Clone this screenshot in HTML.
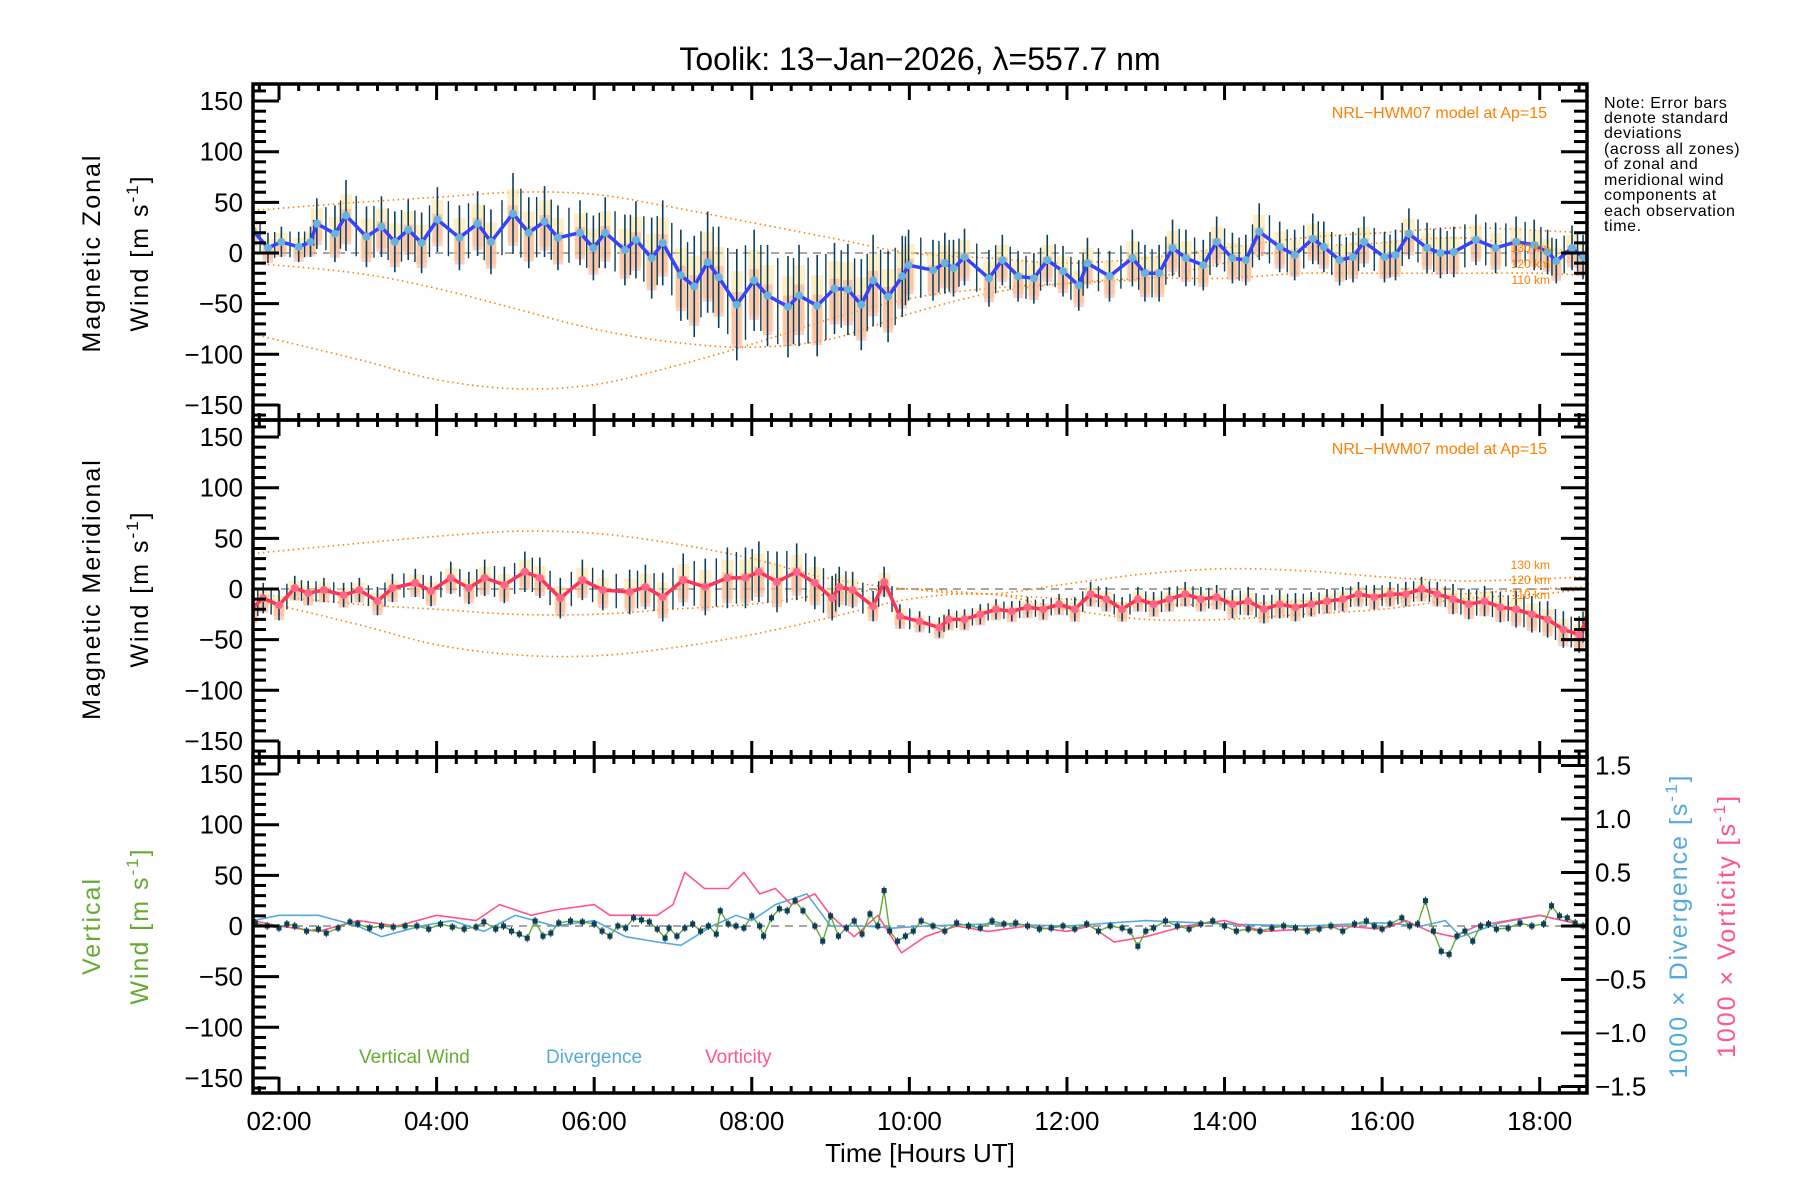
<!DOCTYPE html>
<html><head><meta charset="utf-8"><title>Toolik winds</title>
<style>
html,body{margin:0;padding:0;background:#fff;}
svg{display:block;font-family:"Liberation Sans",sans-serif;}
</style></head>
<body>
<svg id="chart" width="1800" height="1200" viewBox="0 0 1800 1200" xmlns="http://www.w3.org/2000/svg">
<rect width="1800" height="1200" fill="#fff"/>
<text x="920" y="70" text-anchor="middle" font-size="32">Toolik: 13−Jan−2026, λ=557.7 nm</text>
<g id="layer"></g>
<text x="1547" y="118" text-anchor="end" font-size="16" fill="#ff7f00">NRL−HWM07 model at Ap=15</text>
<text x="1547" y="454" text-anchor="end" font-size="16" fill="#ff7f00">NRL−HWM07 model at Ap=15</text>
<g font-size="12" fill="#ff7f00" text-anchor="end">
<text x="1550" y="252">130 km</text>
<text x="1550" y="268">120 km</text>
<text x="1550" y="284">110 km</text>
<text x="1550" y="569">130 km</text>
<text x="1550" y="584">120 km</text>
<text x="1550" y="599">110 km</text>
</g>
<g font-size="16" letter-spacing="0.6">
<text x="1604" y="108">Note: Error bars</text>
<text x="1604" y="123">denote standard</text>
<text x="1604" y="138">deviations</text>
<text x="1604" y="154">(across all zones)</text>
<text x="1604" y="169">of zonal and</text>
<text x="1604" y="185">meridional wind</text>
<text x="1604" y="200">components at</text>
<text x="1604" y="216">each observation</text>
<text x="1604" y="231">time.</text>
</g>
<g font-size="25" letter-spacing="2">
<text transform="translate(100,253) rotate(-90)" text-anchor="middle">Magnetic Zonal</text>
<text transform="translate(148,253) rotate(-90)" text-anchor="middle">Wind [m s<tspan dy="-10" font-size="17">-1</tspan><tspan dy="10">]</tspan></text>
<text transform="translate(100,589) rotate(-90)" text-anchor="middle">Magnetic Meridional</text>
<text transform="translate(148,589) rotate(-90)" text-anchor="middle">Wind [m s<tspan dy="-10" font-size="17">-1</tspan><tspan dy="10">]</tspan></text>
<text transform="translate(100,926) rotate(-90)" text-anchor="middle" fill="#66aa33">Vertical</text>
<text transform="translate(148,926) rotate(-90)" text-anchor="middle" fill="#66aa33">Wind [m s<tspan dy="-10" font-size="17">-1</tspan><tspan dy="10">]</tspan></text>
<text transform="translate(1687,926) rotate(-90)" text-anchor="middle" fill="#55aadd">1000 × Divergence [s<tspan dy="-10" font-size="17">-1</tspan><tspan dy="10">]</tspan></text>
<text transform="translate(1735,926) rotate(-90)" text-anchor="middle" fill="#ff5588">1000 × Vorticity [s<tspan dy="-10" font-size="17">-1</tspan><tspan dy="10">]</tspan></text>
</g>
<text x="920" y="1162" text-anchor="middle" font-size="26">Time [Hours UT]</text>
<g font-size="19">
<text x="359" y="1063" fill="#66aa33">Vertical Wind</text>
<text x="546" y="1063" fill="#55aadd">Divergence</text>
<text x="705" y="1063" fill="#ff5588">Vorticity</text>
</g>
</svg>
<script>
// ---- data ----
const zonalTime=[1.66,1.86,2.03,2.25,2.40,2.48,2.71,2.85,3.11,3.30,3.47,3.64,3.81,4.01,4.29,4.52,4.69,4.97,5.17,5.37,5.54,5.82,5.99,6.14,6.39,6.53,6.73,6.87,7.10,7.27,7.44,7.58,7.81,8.03,8.20,8.46,8.60,8.83,9.05,9.22,9.39,9.54,9.73,9.91,9.99,10.30,10.45,10.56,10.70,11.01,11.18,11.38,11.58,11.75,11.95,12.15,12.26,12.54,12.83,12.99,13.17,13.34,13.51,13.73,13.90,14.10,14.27,14.44,14.70,14.89,15.12,15.26,15.46,15.63,15.77,16.03,16.17,16.34,16.57,16.74,16.91,17.19,17.44,17.70,17.93,18.10,18.21,18.41,18.55];
const zonalMean=[23,5,11,6,11,29,19,37,16,26,11,23,10,33,15,29,11,39,20,31,15,20,5,20,3,13,-5,10,-22,-33,-9,-24,-51,-27,-42,-53,-42,-52,-35,-36,-51,-27,-43,-23,-12,-17,-10,-15,-4,-25,-7,-23,-25,-7,-18,-32,-10,-23,-5,-20,-20,5,-5,-12,11,-5,-7,21,6,-2,14,6,-7,-4,11,-4,-2,19,5,0,1,13,5,11,8,1,-8,5,-4];
const zonalStd=[18,15,15,15,15,25,28,35,30,30,30,30,30,32,32,32,32,40,35,35,32,32,32,35,35,38,40,42,45,50,50,50,55,50,50,50,50,50,45,45,45,45,45,40,35,30,30,28,28,28,25,25,25,25,25,25,25,25,28,28,28,28,28,25,25,25,25,28,25,25,25,25,25,25,25,25,25,25,25,25,25,25,25,25,25,22,22,22,22];
const merTime=[1.66,1.80,2.00,2.20,2.37,2.57,2.82,3.02,3.25,3.44,3.73,3.93,4.18,4.41,4.61,4.86,5.12,5.31,5.57,5.85,6.11,6.45,6.65,6.87,7.13,7.41,7.69,7.92,8.09,8.32,8.57,8.80,9.02,9.11,9.28,9.54,9.68,9.88,10.13,10.38,10.5,10.7,10.9,11.1,11.3,11.5,11.7,11.9,12.1,12.3,12.5,12.7,12.9,13.1,13.3,13.5,13.7,13.9,14.1,14.3,14.5,14.7,14.9,15.1,15.3,15.5,15.7,15.9,16.1,16.3,16.5,16.7,16.9,17.1,17.3,17.5,17.7,17.9,18.1,18.3,18.5,18.6];
const merMean=[-19,-9,-16,1,-4,-1,-6,-1,-12,1,6,-2,11,1,11,4,17,11,-9,9,-1,-3,2,-8,9,2,11,11,17,7,17,6,-9,2,-1,-17,7,-27,-32,-38,-30,-30,-25,-20,-22,-18,-20,-15,-20,-5,-10,-20,-10,-15,-10,-5,-10,-8,-15,-12,-20,-15,-18,-15,-12,-10,-5,-8,-5,-5,0,-5,-10,-15,-12,-18,-20,-25,-30,-40,-45,-30];
const merStd=[15,15,15,12,12,12,12,12,14,14,14,15,16,16,18,18,20,20,20,20,20,22,22,24,26,28,30,30,30,30,28,26,22,20,18,15,15,12,10,10,10,10,10,10,10,10,10,10,12,12,12,12,12,12,12,12,12,12,14,14,14,14,14,12,12,12,12,12,12,12,12,12,15,15,15,15,18,18,18,18,18,15];
const vertTime=[1.7,1.85,2.0,2.1,2.2,2.35,2.5,2.6,2.75,2.9,3.0,3.15,3.3,3.45,3.6,3.75,3.9,4.05,4.2,4.35,4.5,4.6,4.75,4.85,4.95,5.05,5.15,5.25,5.35,5.45,5.55,5.7,5.85,6.0,6.1,6.2,6.3,6.4,6.5,6.6,6.7,6.8,6.9,6.95,7.05,7.15,7.25,7.35,7.45,7.55,7.6,7.7,7.8,7.9,8.0,8.1,8.15,8.25,8.35,8.45,8.55,8.65,8.8,8.9,9.0,9.1,9.2,9.3,9.4,9.5,9.6,9.68,9.75,9.85,9.95,10.05,10.15,10.3,10.45,10.6,10.75,10.9,11.05,11.2,11.35,11.5,11.65,11.8,11.95,12.1,12.25,12.4,12.55,12.7,12.8,12.9,13.0,13.1,13.25,13.4,13.55,13.7,13.85,14.0,14.15,14.3,14.45,14.6,14.75,14.9,15.05,15.2,15.35,15.5,15.65,15.8,15.9,16.0,16.1,16.25,16.35,16.45,16.55,16.65,16.75,16.85,16.95,17.05,17.15,17.25,17.35,17.45,17.6,17.75,17.9,18.05,18.15,18.25,18.35,18.45,18.55];
const vertVal=[3,0,-2,2,0,-5,-3,-7,-2,4,2,-2,0,-1,0,0,-3,2,-1,-3,-1,4,-3,0,-5,-8,-12,5,-10,-7,3,5,4,2,-5,-10,0,-2,8,6,4,-3,-12,-2,-10,-2,2,-5,0,-8,15,2,0,-2,10,0,-10,8,17,15,25,15,0,-15,10,-10,-2,5,-8,12,0,35,-5,-15,-10,-5,5,0,-5,3,0,-2,5,2,3,0,-3,-2,0,-3,2,-5,0,-2,-5,-20,-5,-2,5,0,-3,2,5,0,-5,-3,-5,-2,0,-2,-5,-3,0,-5,2,5,0,-3,2,8,0,2,25,-5,-25,-28,-10,-5,-15,0,2,-3,-2,3,0,2,20,10,8,3,0];
const divTime=[1.67,2.0,2.5,3.0,3.3,3.8,4.2,4.6,5.0,5.5,6.0,6.4,6.8,7.1,7.5,7.8,8.0,8.3,8.7,9.0,9.4,9.8,10.2,11.0,12.0,13.0,14.0,15.0,16.0,16.5,16.8,17.0,17.5,18.0,18.6];
const divVal=[0.05,0.1,0.1,0,-0.1,0,0.05,-0.05,0.1,0,0.05,-0.1,-0.15,-0.18,0,0.1,0.05,0.2,0.3,0.0,0.0,-0.02,0,0.02,0,0.05,0.02,0,0.03,0.0,0.05,-0.1,0.03,0.1,0];
const vortTime=[1.67,2.0,2.5,3.0,3.5,4.0,4.5,4.8,5.2,5.5,6.0,6.2,6.8,7.0,7.15,7.4,7.7,7.9,8.1,8.3,8.5,8.8,9.0,9.3,9.6,9.9,10.2,10.6,11.0,11.5,12.0,12.3,12.6,13.0,13.5,14.0,14.5,15.0,15.5,16.0,16.3,16.6,16.9,17.2,17.6,18.0,18.3,18.6];
const vortVal=[0.05,0,-0.05,0.05,0,0.1,0.05,0.2,0.1,0.15,0.2,0.1,0.1,0.2,0.5,0.35,0.35,0.5,0.3,0.35,0.2,0.3,0.1,-0.1,0.1,-0.25,-0.1,0,-0.05,0,-0.05,0,-0.15,-0.1,0,0.05,-0.05,-0.03,0,-0.03,0.05,-0.05,-0.1,0,0.05,0.1,0.05,0];
const modelTime=[1.67,3,4,5,6,7,8,9,10,11,12,13,14,15,16,17,18,18.6];
const zonalModel130=[42,50,55,60,58,45,30,15,0,-5,-10,-5,5,15,20,25,22,20];
const zonalModel120=[-10,-20,-35,-55,-75,-88,-93,-85,-60,-40,-30,-25,-25,-20,-20,-20,-20,-22];
const zonalModel110=[-80,-105,-125,-134,-130,-112,-90,-65,-45,-35,-30,-25,-10,5,10,15,5,0];
const merModel130=[35,45,52,57,55,45,30,10,0,-5,5,15,20,18,12,8,10,12];
const merModel120=[-5,-15,-20,-25,-25,-20,-15,-5,0,-5,-10,-15,-15,-12,-10,-5,0,2];
const merModel110=[-10,-35,-55,-65,-66,-58,-45,-28,-10,-5,-20,-30,-30,-25,-20,-10,-5,0];
const yTicks=[150,100,50,0,-50,-100,-150];
const rTicks=[1.5,1.0,0.5,0.0,-0.5,-1.0,-1.5];
const xTickLabels=["02:00","04:00","06:00","08:00","10:00","12:00","14:00","16:00","18:00"];
const xTickHours=[2,4,6,8,10,12,14,16,18];

// ---- axes ----
const X0=253,X1=1587,T0=1.67,T1=18.6;
const panels=[{top:84,bot:420,zero:253},{top:420,bot:757,zero:589},{top:757,bot:1093,zero:926}];
const PX=1.013, RPX=107;
function x(t){return X0+(t-T0)*(X1-X0)/(T1-T0);}
function y(p,v){return panels[p].zero-v*PX;}
function yr(v){return panels[2].zero-v*RPX;}
const NS='http://www.w3.org/2000/svg';
const layer=document.getElementById('layer');
function mk(tag,attrs,parent){const e=document.createElementNS(NS,tag);for(const k in attrs)e.setAttribute(k,attrs[k]);(parent||layer).appendChild(e);return e;}
function smooth(pts){let d='M'+pts[0][0]+','+pts[0][1];for(let i=0;i<pts.length-1;i++){const p0=pts[i-1]||pts[i],p1=pts[i],p2=pts[i+1],p3=pts[i+2]||p2;d+=' C'+(p1[0]+(p2[0]-p0[0])/6)+','+(p1[1]+(p2[1]-p0[1])/6)+' '+(p2[0]-(p3[0]-p1[0])/6)+','+(p2[1]-(p3[1]-p1[1])/6)+' '+p2[0]+','+p2[1];}return d;}
function poly(ts,vs,fy){return ts.map((t,i)=>x(t).toFixed(1)+','+fy(vs[i]).toFixed(1)).join(' ');}

const defs=mk('defs',{});
panels.forEach((p,i)=>{const c=mk('clipPath',{id:'clip'+i},defs);mk('rect',{x:X0,y:p.top,width:X1-X0,height:p.bot-p.top},c);});

panels.forEach((p,i)=>{const l=mk('line',{x1:X0,x2:X1,y1:p.zero,y2:p.zero,stroke:'#888','stroke-width':1.5,'stroke-dasharray':'8,6'});

});

function model(p,vals,name){const g=mk('path',{d:smooth(modelTime.map((t,i)=>[x(t),y(p,vals[i])])),fill:'none',stroke:'#ff7f00','stroke-width':1.6,'stroke-dasharray':'1.5,3.5','clip-path':'url(#clip'+p+')'});

}
model(0,zonalModel130,'zonal-model-130km');model(0,zonalModel120,'zonal-model-120km');model(0,zonalModel110,'zonal-model-110km');
model(1,merModel130,'meridional-model-130km');model(1,merModel120,'meridional-model-120km');model(1,merModel110,'meridional-model-110km');

function windPanel(p,ts,ms,ss,lineCol,dotCol,name){
  const g=mk('g',{'clip-path':'url(#clip'+p+')'});
  
  
  ts.forEach((t,i)=>{
    const cx=x(t),m=ms[i],s=ss[i];
    const r1=mk('rect',{x:cx-6,y:y(p,m+s*0.6),width:12,height:Math.max(1,(s*1.3)*PX),fill:'rgba(255,225,150,0.55)'},g);
    
    
    const r2=mk('rect',{x:cx-5,y:y(p,m+s*0.3-4),width:10,height:Math.max(1,(s*1.0)*PX),fill:'rgba(250,160,140,0.5)'},g);
    
    
  });
  ts.forEach((t,i)=>{
    const cx=x(t),m=ms[i],s=ss[i];
    const e=mk('line',{x1:cx,x2:cx,y1:y(p,m-s),y2:y(p,m+s),stroke:'#0d3f5a','stroke-width':1.6},g);
    
    
    if(i<ts.length-1){const t2=(t+ts[i+1])/2,m2=(m+ms[i+1])/2,s2=s*0.85;
      const e2=mk('line',{x1:x(t2),x2:x(t2),y1:y(p,m2-s2),y2:y(p,m2+s2),stroke:'#0d3f5a','stroke-width':1.4},g);
      
      }
  });
  const l=mk('polyline',{points:poly(ts,ms,v=>y(p,v)),fill:'none',stroke:lineCol,'stroke-width':3.5},g);
  
  
  ts.forEach((t,i)=>{const c=mk('circle',{cx:x(t),cy:y(p,ms[i]),r:4,fill:dotCol},g);
    
    });
}
windPanel(0,zonalTime,zonalMean,zonalStd,'#3344ff','#66b3e0','zonal');
windPanel(1,merTime,merMean,merStd,'#ff3355','#ff6688','meridional');

const g3=mk('g',{'clip-path':'url(#clip2)'});


const dl=mk('polyline',{points:poly(divTime,divVal,yr),fill:'none',stroke:'#55aadd','stroke-width':1.6},g3);


const vl=mk('polyline',{points:poly(vortTime,vortVal,yr),fill:'none',stroke:'#ff5588','stroke-width':1.6},g3);


const wl=mk('polyline',{points:poly(vertTime,vertVal,v=>y(2,v)),fill:'none',stroke:'#66aa33','stroke-width':1.4},g3);


vertTime.forEach((t,i)=>{
  const e=mk('line',{x1:x(t),x2:x(t),y1:y(2,vertVal[i]-4),y2:y(2,vertVal[i]+4),stroke:'#0d3f5a','stroke-width':1},g3);
  
  
  const c=mk('rect',{x:x(t)-2.5,y:y(2,vertVal[i])-2.5,width:5,height:5,fill:'#0d3f5a'},g3);
  
  
});

const ax=mk('g',{stroke:'#000'});


panels.forEach((p,pi)=>{
  mk('rect',{x:X0,y:p.top,width:X1-X0,height:p.bot-p.top,fill:'none','stroke-width':3.5},ax);
  for(let v=-160;v<=160;v+=10){const yy=y(pi,v);if(yy<p.top+2||yy>p.bot-2)continue;const L=(v%50===0)?26:13;
    mk('line',{x1:X0,x2:X0+L,y1:yy,y2:yy,'stroke-width':3},ax);
    if(pi<2)mk('line',{x1:X1,x2:X1-L,y1:yy,y2:yy,'stroke-width':3},ax);}
  for(let t=1.75;t<=18.6;t+=0.25){const xx=x(t);const major=Math.abs(t/2-Math.round(t/2))<1e-6;const L=major?16:7;
    mk('line',{x1:xx,x2:xx,y1:p.bot,y2:p.bot-L,'stroke-width':3},ax);
    mk('line',{x1:xx,x2:xx,y1:p.top,y2:p.top+L,'stroke-width':3},ax);}
  yTicks.forEach(v=>{const t=mk('text',{x:X0-10,y:y(pi,v)+9,'text-anchor':'end','font-size':26,stroke:'none',fill:'#000'},layer);
    t.textContent=(v<0?'−':'')+Math.abs(v);
    
    });
});
for(let v=-1.6;v<=1.6001;v+=0.1){const yy=yr(v);if(yy<panels[2].top+2||yy>panels[2].bot-2)continue;const L=(Math.abs(v*2-Math.round(v*2))<1e-6)?26:13;
  mk('line',{x1:X1,x2:X1-L,y1:yy,y2:yy,'stroke-width':3},ax);}
rTicks.forEach(v=>{const t=mk('text',{x:X1+8,y:yr(v)+9,'font-size':26,fill:'#000'});
  t.textContent=(v<0?'−':'')+Math.abs(v).toFixed(1);
  
  });
xTickHours.forEach((h,i)=>{const t=mk('text',{x:x(h),y:1130,'text-anchor':'middle','font-size':26,fill:'#000'});
  t.textContent=xTickLabels[i];
  
  });
</script>
</body></html>
